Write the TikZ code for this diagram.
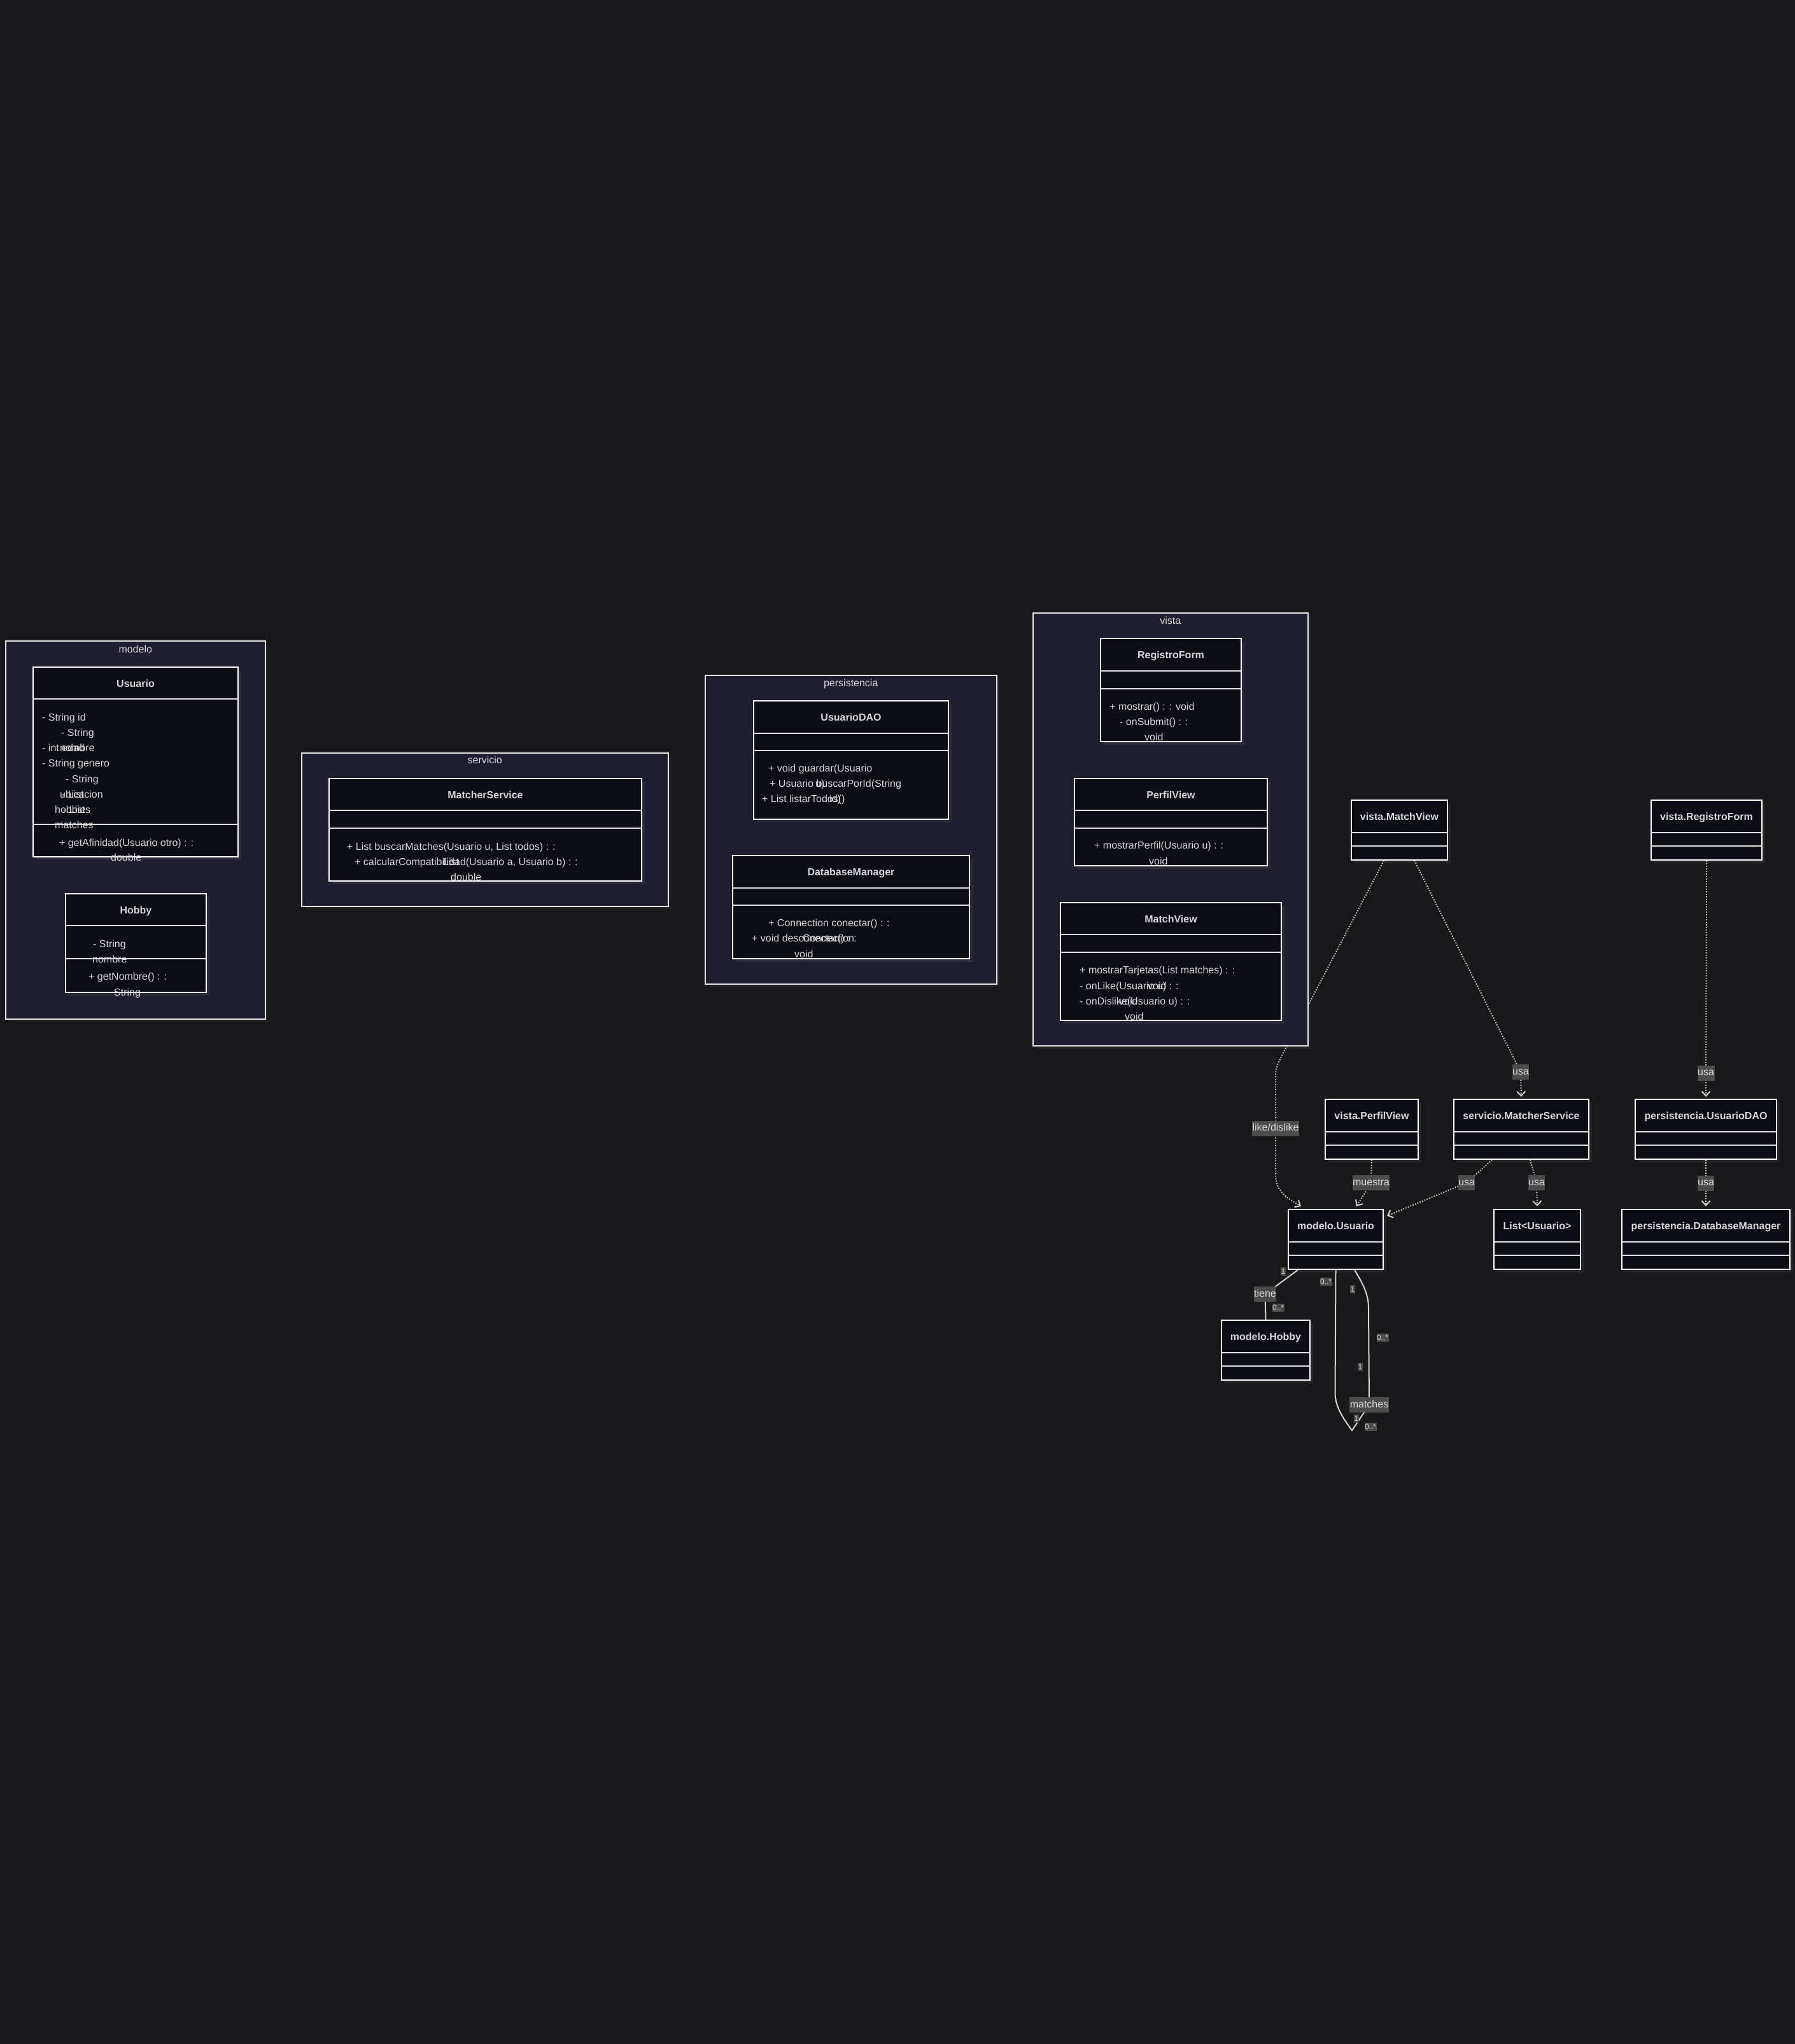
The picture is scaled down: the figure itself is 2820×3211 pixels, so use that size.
\documentclass[tikz,border=0pt]{standalone}
\usepackage{fontspec}
\setmainfont{Liberation Sans}
\usetikzlibrary{calc,arrows.meta,shadows}

\definecolor{canvas}{RGB}{24,24,27}
\definecolor{pkgfill}{RGB}{30,30,46}
\definecolor{clsfill}{RGB}{12,12,20}
\definecolor{txt}{RGB}{214,214,214}
\definecolor{edge}{RGB}{210,210,210}
\definecolor{lblfill}{RGB}{76,76,76}

\begin{document}
\begin{tikzpicture}[x=1pt,y=-1pt,
	pkg/.style={draw=white!90!black, line width=1.5pt, fill=pkgfill, anchor=north west, inner sep=0pt, drop shadow={shadow xshift=5pt, shadow yshift=-5pt, fill=white, opacity=0.04}},
	cls/.style={draw=white, line width=2pt, fill=clsfill, anchor=north west, inner sep=0pt, drop shadow={shadow xshift=5pt, shadow yshift=-5pt, fill=white, opacity=0.06}},
	div/.style={draw=white!88!black, line width=2pt},
	ttl/.style={anchor=base, inner sep=0pt, text=txt, font=\bfseries\fontsize{16}{19}\selectfont},
	mem/.style={anchor=base west, inner sep=0pt, text=txt, font=\fontsize{16}{19}\selectfont},
	pkgname/.style={anchor=base, inner sep=0pt, text=txt, font=\fontsize{16}{19}\selectfont},
	lbl/.style={fill=lblfill, text=txt, inner xsep=0.5pt, inner ysep=4pt, text height=12pt, text depth=4pt, font=\fontsize{16}{19}\selectfont},
	mult/.style={fill=lblfill, text=txt, inner xsep=0.5pt, inner ysep=2pt, text height=9pt, text depth=0pt, font=\fontsize{12}{14}\selectfont},
	dep/.style={draw=edge, line width=2pt, dash pattern=on 1.6pt off 2.4pt, -{Straight Barb[length=7pt,width=13pt]}},
	assoc/.style={draw=edge, line width=2pt}]

	\path[use as bounding box, fill=canvas] (0,0) rectangle (2820,3211);

	\node[cls, minimum width=151pt, minimum height=94pt] (matchv) at (2122,1256) {};
	\node[ttl] (matchvt) at ($(matchv.north)+(0,32)$) {vista.MatchView};
	\draw[div] ($(matchv.north west)+(0,52)$) -- ($(matchv.north east)+(0,52)$) ($(matchv.north west)+(0,73)$) -- ($(matchv.north east)+(0,73)$);

	\node[cls, minimum width=174pt, minimum height=94pt] (regf) at (2593,1256) {};
	\node[ttl] (regft) at ($(regf.north)+(0,32)$) {vista.RegistroForm};
	\draw[div] ($(regf.north west)+(0,52)$) -- ($(regf.north east)+(0,52)$) ($(regf.north west)+(0,73)$) -- ($(regf.north east)+(0,73)$);

	\node[cls, minimum width=146pt, minimum height=94pt] (perfv) at (2081,1726) {};
	\node[ttl] (perfvt) at ($(perfv.north)+(0,32)$) {vista.PerfilView};
	\draw[div] ($(perfv.north west)+(0,52)$) -- ($(perfv.north east)+(0,52)$) ($(perfv.north west)+(0,73)$) -- ($(perfv.north east)+(0,73)$);

	\node[cls, minimum width=212pt, minimum height=94pt] (matchs) at (2283,1726) {};
	\node[ttl] (matchst) at ($(matchs.north)+(0,32)$) {servicio.MatcherService};
	\draw[div] ($(matchs.north west)+(0,52)$) -- ($(matchs.north east)+(0,52)$) ($(matchs.north west)+(0,73)$) -- ($(matchs.north east)+(0,73)$);

	\node[cls, minimum width=222pt, minimum height=94pt] (udao) at (2568,1726) {};
	\node[ttl] (udaot) at ($(udao.north)+(0,32)$) {persistencia.UsuarioDAO};
	\draw[div] ($(udao.north west)+(0,52)$) -- ($(udao.north east)+(0,52)$) ($(udao.north west)+(0,73)$) -- ($(udao.north east)+(0,73)$);

	\node[cls, minimum width=149pt, minimum height=94pt] (usr) at (2023,1899) {};
	\node[ttl] (usrt) at ($(usr.north)+(0,32)$) {modelo.Usuario};
	\draw[div] ($(usr.north west)+(0,52)$) -- ($(usr.north east)+(0,52)$) ($(usr.north west)+(0,73)$) -- ($(usr.north east)+(0,73)$);

	\node[cls, minimum width=136pt, minimum height=94pt] (lst) at (2346,1899) {};
	\node[ttl] (lstt) at ($(lst.north)+(0,32)$) {List<Usuario>};
	\draw[div] ($(lst.north west)+(0,52)$) -- ($(lst.north east)+(0,52)$) ($(lst.north west)+(0,73)$) -- ($(lst.north east)+(0,73)$);

	\node[cls, minimum width=264pt, minimum height=94pt] (dbm) at (2547,1899) {};
	\node[ttl] (dbmt) at ($(dbm.north)+(0,32)$) {persistencia.DatabaseManager};
	\draw[div] ($(dbm.north west)+(0,52)$) -- ($(dbm.north east)+(0,52)$) ($(dbm.north west)+(0,73)$) -- ($(dbm.north east)+(0,73)$);

	\node[cls, minimum width=139pt, minimum height=94pt] (hob) at (1918,2073) {};
	\node[ttl] (hobt) at ($(hob.north)+(0,32)$) {modelo.Hobby};
	\draw[div] ($(hob.north west)+(0,52)$) -- ($(hob.north east)+(0,52)$) ($(hob.north west)+(0,73)$) -- ($(hob.north east)+(0,73)$);

	\draw[dep] ([xshift=-24.5pt]matchv.south) -- (2013,1660) .. controls (2004,1678) .. (2004,1700) -- node[lbl] (lk) {like/dislike} (2004,1845) .. controls (2004,1872) and (2022,1882) .. ([xshift=-54.5pt,yshift=4pt]usr.north);
	\draw[dep] ([xshift=23.5pt]matchv.south) -- (2389,1684) node[lbl] (u1) {usa} -- ([yshift=3pt]matchs.north);
	\draw[dep] (regf.south) -- node[lbl, pos=0.9] (u2) {usa} ([yshift=3pt]udao.north);
	\draw[dep] (perfv.south) -- (2154,1858) node[lbl] (ms) {muestra} -- ([xshift=32.5pt,yshift=4pt]usr.north);
	\draw[dep] ([xshift=-46pt]matchs.south) -- (2304,1858) node[lbl] (u3) {usa} -- ([xshift=5pt,yshift=-11pt]usr.north east);
	\draw[dep] ([xshift=14pt]matchs.south) -- (2414,1858) node[lbl] (u4) {usa} -- ([yshift=4pt]lst.north);
	\draw[dep] (udao.south) -- node[lbl] (u5) {usa} ([yshift=4pt]dbm.north);

	\draw[assoc] ([xshift=-59.5pt]usr.south) -- (1987.5,2033) node[lbl] (tn) {tiene} -- (hob.north);
	\draw[assoc] (usr.south) -- (2097.5,2188) .. controls (2097.5,2210) and (2110,2228) .. (2124,2247) -- (2151,2207) node[lbl] (mt) {matches} -- (2150,2055) .. controls (2150,2030) and (2138,2012) .. ([xshift=29.5pt]usr.south);

	\node[mult] (m1) at (2016,1997) {1};
	\node[mult] (m2) at (2008,2054) {0..*};
	\node[mult] (m3) at (2083,2013) {0..*};
	\node[mult] (m4) at (2125,2025) {1};
	\node[mult] (m5) at (2172,2101) {0..*};
	\node[mult] (m6) at (2137,2147) {1};
	\node[mult] (m7) at (2131,2228) {1};
	\node[mult] (m8) at (2153,2241) {0..*};

	\node[pkg, minimum width=408pt, minimum height=594pt] (modelo) at (8,1006) {};
	\node[pkgname] (modelot) at ($(modelo.north)+(0,19)$) {modelo};

	\node[cls, minimum width=322pt, minimum height=298pt] (usuario) at (51,1047) {};
	\node[ttl] (usuariot) at ($(usuario.north)+(0,32)$) {Usuario};
	\node[mem] (ua1) at (66,1132) {- String id};
	\node[mem] (ua2) at (96,1156) {- String};
	\node[mem] (ua3) at (66,1180) {- int edad};
	\node[mem] (ua4) at (94,1180) {nombre};
	\node[mem] (ua5) at (66,1204) {- String genero};
	\node[mem] (ua6) at (103,1229) {- String};
	\node[mem] (ua7) at (94,1253) {ubicacion};
	\node[mem] (ua8) at (97,1253) {- List};
	\node[mem] (ua9) at (86,1277) {hobbies};
	\node[mem] (ua10) at (99,1277) {- List};
	\node[mem] (ua11) at (86,1301) {matches};
	\node[mem] (um1) at (93,1329) {+ getAfinidad(Usuario otro) : :};
	\node[mem] (um2) at (174,1352) {double};
	\draw[div] ($(usuario.north west)+(0,51)$) -- ($(usuario.north east)+(0,51)$) ($(usuario.north west)+(0,248)$) -- ($(usuario.north east)+(0,248)$);

	\node[cls, minimum width=221pt, minimum height=155pt] (hobby) at (102,1403) {};
	\node[ttl] (hobbyt) at ($(hobby.north)+(0,32)$) {Hobby};
	\node[mem] (ha1) at (146,1488) {- String};
	\node[mem] (ha2) at (145,1512) {nombre};
	\node[mem] (hm1) at (139,1539) {+ getNombre() : :};
	\node[mem] (hm2) at (179,1564) {String};
	\draw[div] ($(hobby.north west)+(0,51)$) -- ($(hobby.north east)+(0,51)$) ($(hobby.north west)+(0,103)$) -- ($(hobby.north east)+(0,103)$);

	\node[pkg, minimum width=576pt, minimum height=241pt] (servicio) at (473,1182) {};
	\node[pkgname] (serviciot) at ($(servicio.north)+(0,17)$) {servicio};

	\node[cls, minimum width=491pt, minimum height=161pt] (matcher) at (516,1222) {};
	\node[ttl] (matchert) at ($(matcher.north)+(0,32)$) {MatcherService};
	\node[mem] (sm1) at (545,1335) {+ List buscarMatches(Usuario u, List todos) : :};
	\node[mem] (sm2) at (557,1359) {+ calcularCompatibilidad(Usuario a, Usuario b) : :};
	\node[mem] (sm3) at (696,1359) {List};
	\node[mem] (sm4) at (708,1383) {double};
	\draw[div] ($(matcher.north west)+(0,51)$) -- ($(matcher.north east)+(0,51)$) ($(matcher.north west)+(0,79)$) -- ($(matcher.north east)+(0,79)$);

	\node[pkg, minimum width=458pt, minimum height=485pt] (persist) at (1107,1060) {};
	\node[pkgname] (persistt) at ($(persist.north)+(0,18)$) {persistencia};

	\node[cls, minimum width=306pt, minimum height=186pt] (dao) at (1183,1100) {};
	\node[ttl] (daot) at ($(dao.north)+(0,32)$) {UsuarioDAO};
	\node[mem] (dm1) at (1207,1212) {+ void guardar(Usuario};
	\node[mem] (dm2) at (1209,1236) {+ Usuario buscarPorId(String};
	\node[mem] (dm3) at (1281,1236) {u)};
	\node[mem] (dm4) at (1197,1260) {+ List listarTodos()};
	\node[mem] (dm5) at (1303,1260) {id)};
	\draw[div] ($(dao.north west)+(0,52)$) -- ($(dao.north east)+(0,52)$) ($(dao.north west)+(0,79)$) -- ($(dao.north east)+(0,79)$);

	\node[cls, minimum width=372pt, minimum height=162pt] (dbman) at (1150,1343) {};
	\node[ttl] (dbmant) at ($(dbman.north)+(0,32)$) {DatabaseManager};
	\node[mem] (bm1) at (1207,1455) {+ Connection conectar() : :};
	\node[mem] (bm2) at (1181,1479) {+ void desconectar() : :};
	\node[mem] (bm3) at (1261,1479) {Connection};
	\node[mem] (bm4) at (1248,1504) {void};
	\draw[div] ($(dbman.north west)+(0,52)$) -- ($(dbman.north east)+(0,52)$) ($(dbman.north west)+(0,79)$) -- ($(dbman.north east)+(0,79)$);

	\node[pkg, minimum width=432pt, minimum height=680pt] (vista) at (1622,962) {};
	\node[pkgname] (vistat) at ($(vista.north)+(0,18)$) {vista};

	\node[cls, minimum width=221pt, minimum height=162pt] (regform) at (1728,1002) {};
	\node[ttl] (regformt) at ($(regform.north)+(0,32)$) {RegistroForm};
	\node[mem] (rm1) at (1743,1115) {+ mostrar() : : void};
	\node[mem] (rm2) at (1759,1139) {- onSubmit() : :};
	\node[mem] (rm3) at (1798,1163) {void};
	\draw[div] ($(regform.north west)+(0,52)$) -- ($(regform.north east)+(0,52)$) ($(regform.north west)+(0,80)$) -- ($(regform.north east)+(0,80)$);

	\node[cls, minimum width=303pt, minimum height=137pt] (perfil) at (1687,1222) {};
	\node[ttl] (perfilt) at ($(perfil.north)+(0,32)$) {PerfilView};
	\node[mem] (pm1) at (1719,1333) {+ mostrarPerfil(Usuario u) : :};
	\node[mem] (pm2) at (1805,1358) {void};
	\draw[div] ($(perfil.north west)+(0,51)$) -- ($(perfil.north east)+(0,51)$) ($(perfil.north west)+(0,79)$) -- ($(perfil.north east)+(0,79)$);

	\node[cls, minimum width=347pt, minimum height=185pt] (matchview) at (1665,1417) {};
	\node[ttl] (matchviewt) at ($(matchview.north)+(0,32)$) {MatchView};
	\node[mem] (vm1) at (1696,1529) {+ mostrarTarjetas(List matches) : :};
	\node[mem] (vm2) at (1696,1554) {- onLike(Usuario u) : :};
	\node[mem] (vm3) at (1803,1554) {void};
	\node[mem] (vm4) at (1696,1578) {- onDislike(Usuario u) : :};
	\node[mem] (vm5) at (1758,1578) {void};
	\node[mem] (vm6) at (1767,1602) {void};
	\draw[div] ($(matchview.north west)+(0,51)$) -- ($(matchview.north east)+(0,51)$) ($(matchview.north west)+(0,79)$) -- ($(matchview.north east)+(0,79)$);
\end{tikzpicture}
\end{document}
